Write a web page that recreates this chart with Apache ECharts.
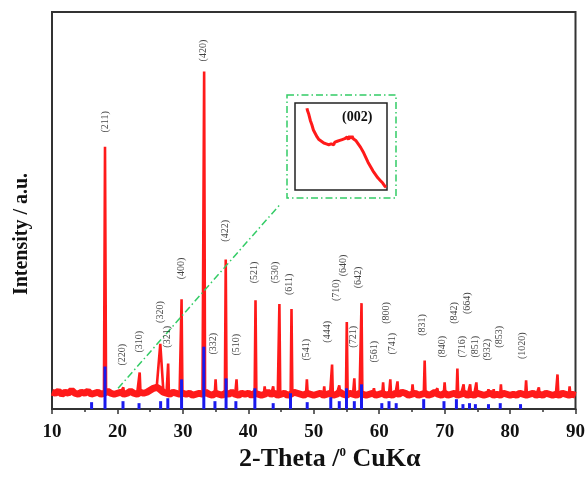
<!DOCTYPE html>
<html><head><meta charset="utf-8">
<script src="https://cdn.jsdelivr.net/npm/echarts@6/dist/echarts.min.js"></script>
<style>html,body{margin:0;padding:0;background:#fff}#c{width:588px;height:477px}</style>
</head><body><div id="c"></div>
<script>
// ---- Data ----
const xTicks = [10, 20, 30, 40, 50, 60, 70, 80, 90];
// Background (noisy) baseline, sampled every 0.5 deg from 10 to 90
const baseStart = 10, baseStep = 0.5;
const baseline = [
  17,16,18,15,17,16,19,16,15,17,16,18,15,16,17,15,16,18,16,15,16,
  17,15,16,18,16,15,17,16,17,19,21,22,20,17,16,15,17,16,15,16,
  15,16,14,15,16,15,17,15,14,16,15,14,16,15,17,15,14,16,15,16,
  14,16,15,14,15,17,15,16,14,15,16,14,15,17,16,15,14,16,15,14,
  15,16,14,15,16,14,15,17,15,14,16,15,14,16,15,14,15,16,14,15,
  16,14,15,14,16,15,17,16,14,15,16,14,15,16,14,15,17,15,14,16,
  14,15,16,14,15,16,14,15,14,16,15,14,15,16,14,15,14,16,15,14,
  15,14,16,15,14,15,16,14,15,14,16,15,14,15,14,16,15,14,15,14
];
// Measured red peaks
const peakAngles  = [18.1, 20.9, 23.4, 26.55, 27.75, 29.8, 33.25, 35.0, 36.55, 38.2, 41.1, 42.5, 43.8, 44.75, 46.6, 48.95, 51.6, 52.8, 53.9, 55.05, 56.2, 57.3, 59.2, 60.6, 61.7, 62.8, 65.1, 66.95, 68.9, 70.0, 71.95, 72.9, 73.9, 74.85, 76.7, 77.5, 78.6, 82.45, 84.4, 87.25, 89.1];
const peakHeights = [265, 22, 37, 66, 46, 111, 341, 30, 151, 30, 110, 23, 23, 106, 101, 30, 23, 45, 24, 88, 31, 107, 21, 27, 30, 28, 25, 49, 21, 27, 41, 25, 25, 27, 20, 20, 25, 29, 22, 35, 23];
const peakWidths  = [0.16, 0.12, 0.12, 0.45, 0.12, 0.13, 0.14, 0.12, 0.13, 0.12, 0.13, 0.12, 0.12, 0.13, 0.13, 0.12, 0.12, 0.12, 0.12, 0.13, 0.12, 0.13, 0.12, 0.12, 0.12, 0.12, 0.14, 0.13, 0.12, 0.12, 0.13, 0.12, 0.12, 0.12, 0.12, 0.12, 0.12, 0.14, 0.12, 0.14, 0.12];
// Blue reference (standard card) sticks
const refAngles  = [16.05, 18.1, 20.85, 23.3, 26.6, 27.7, 29.8, 33.2, 34.9, 36.6, 38.1, 41.0, 43.8, 46.45, 49.0, 52.6, 53.9, 55.0, 56.2, 57.3, 60.4, 61.5, 62.6, 66.8, 69.9, 71.8, 72.8, 73.8, 74.7, 76.7, 78.5, 81.6];
const refHeights = [7, 43, 8, 6, 8, 11, 30, 63, 8, 31, 8, 21, 6, 16, 7, 12, 8, 21, 8, 25, 6, 8, 6, 10, 8, 10, 5, 6, 5, 5, 6, 5];
// Miller index labels
const labelNames  = ['(211)','(420)','(220)','(310)','(320)','(321)','(400)','(332)','(422)','(510)','(521)','(530)','(611)','(541)','(444)','(710)','(640)','(642)','(721)','(561)','(800)','(741)','(831)','(840)','(842)','(716)','(664)','(851)','(932)','(853)','(1020)'];
const labelAngles = [18.1, 33.2, 20.7, 23.3, 26.6, 27.7, 29.7, 34.6, 36.55, 38.25, 41.0, 44.2, 46.35, 48.9, 52.15, 53.5, 54.6, 56.85, 56.1, 59.3, 61.15, 62.05, 66.65, 69.7, 71.55, 72.75, 73.5, 74.75, 76.55, 78.4, 81.9];
const labelValues = [290, 362, 55, 68, 98, 73, 142, 66, 180, 65, 138, 138, 126, 60, 78, 120, 145, 133, 73, 58, 97, 66, 85, 63, 97, 63, 107, 63, 60, 73, 64];
// Arrow pointing to inset
const arrowFrom = [20.1, 21];
const arrowTo = [44.9, 207];
// Inset (002) curve
const insetX = [13.9,14.1,14.3,14.5,14.7,15.0,15.2,15.5,15.8,16.0,16.3,16.6,16.9,17.2,17.5,17.8,18.2,18.6,19.0,19.4,19.8,20.2,20.6,21.0,21.4,21.8,22.2,22.6,23.0,23.4,23.8,24.2,24.6,25.0,25.4,25.8,26.2,26.6,27.0,27.4,27.8,28.2,28.6,29.0,29.4,29.8,30.2,30.6,31.0,31.4,31.8,32.2,32.6,33.0,33.4,33.8,34.2,34.6,35.0,35.4,35.8,36.2,36.6,37.0,37.4,37.8,38.2,38.6,39.0,39.4,39.7];
const insetY = [94,91,92,87,86,80,81,75,73,69,68,65,63,61,62,58,59,56,57,54,56,53,55,52,54,53,55,52,55,53,56,54,57,55,58,56,59,57,61,58,62,59,62,59,60,57,57,53,53,49,48,44,43,38,37,32,31,27,26,22,22,18,18,14,14,11,11,8,7,4,3];

// ---- Build series data ----
const bandData = baseline.map((v, i) => [baseStart + i * baseStep, v]);
const pts = [];
bandData.forEach(([a, v]) => {
  if (!peakAngles.some((p, j) => Math.abs(a - p) <= peakWidths[j])) pts.push([a, v]);
});
peakAngles.forEach((p, j) => {
  const b = baseline[Math.round((p - baseStart) / baseStep)];
  pts.push([p - peakWidths[j], b], [p, peakHeights[j]], [p + peakWidths[j], b]);
});
pts.sort((a, b) => a[0] - b[0]);
const refData = refAngles.map((a, i) => [a, refHeights[i]]);
const labelData = labelNames.map((n, i) => ({ value: [labelAngles[i], labelValues[i]], name: n }));
const insetData = insetX.map((x, i) => [x, insetY[i]]);

const serif = 'Liberation Serif';
const green = '#33cc66';
const chart = echarts.init(document.getElementById('c'), null, { renderer: 'canvas' });
chart.setOption({
  animation: false,
  backgroundColor: '#fff',
  grid: [
    { left: 52, right: 12, top: 12, bottom: 64, show: true, borderColor: '#333', borderWidth: 2 },
    { left: 295, top: 103, width: 92, height: 87, show: true, borderColor: '#222', borderWidth: 1.5, backgroundColor: '#fff' }
  ],
  xAxis: [
    {
      type: 'value', gridIndex: 0, min: 10, max: 90, interval: 10,
      axisLine: { show: true, lineStyle: { color: '#333', width: 2 } },
      axisTick: { show: true, inside: false, length: 5, lineStyle: { color: '#333', width: 1.5 } },
      minorTick: { show: true, splitNumber: 2, length: 3, lineStyle: { color: '#333', width: 1.5 } },
      splitLine: { show: false },
      axisLabel: { fontFamily: serif, fontWeight: 'bold', fontSize: 19, color: '#111', margin: 13,
        formatter: v => xTicks.includes(v) ? String(v) : '' },
      name: '{a|2-Theta /}{s|0}{a| CuKα}', nameLocation: 'middle', nameGap: 17,
      nameTextStyle: { padding: [0, 0, 0, 32], rich: {
        a: { fontFamily: serif, fontWeight: 'bold', fontSize: 26, color: '#111' },
        s: { fontFamily: serif, fontWeight: 'bold', fontSize: 13, color: '#111', verticalAlign: 'top', padding: [0, 0, 12, 0] }
      } }
    },
    { type: 'value', gridIndex: 1, min: 10, max: 40, show: false }
  ],
  yAxis: [
    {
      type: 'value', gridIndex: 0, min: 0, max: 401,
      axisLine: { show: true, lineStyle: { color: '#333', width: 2 } },
      axisTick: { show: false }, axisLabel: { show: false }, splitLine: { show: false }
    },
    { type: 'value', gridIndex: 1, min: 0, max: 100, show: false }
  ],
  graphic: [
    { type: 'rect', shape: { x: 287, y: 95, width: 109, height: 103 }, z: 1,
      style: { fill: 'none', stroke: green, lineWidth: 1.5, lineDash: [7, 3, 1.5, 3] } },
    { type: 'text', left: 342, top: 110, z: 100,
      style: { text: '(002)', fontFamily: serif, fontWeight: 'bold', fontSize: 14, fill: '#111' } },
    { type: 'text', x: 22, y: 234, rotation: Math.PI / 2, z: 100,
      style: { text: 'Intensity / a.u.', fontFamily: serif, fontWeight: 'bold', fontSize: 20, fill: '#111',
        align: 'center', verticalAlign: 'middle' } }
  ],
  series: [
    {
      type: 'line', xAxisIndex: 0, yAxisIndex: 0, data: bandData, showSymbol: false, symbol: 'none',
      lineStyle: { color: '#ff1a1a', width: 7 }, z: 2,
      markLine: {
        silent: true, symbol: ['none', 'arrow'], symbolSize: [0, 9],
        label: { show: false },
        lineStyle: { color: green, width: 1.5, type: [7, 3, 1.5, 3] },
        data: [[{ coord: arrowFrom }, { coord: arrowTo }]]
      }
    },
    {
      type: 'line', xAxisIndex: 0, yAxisIndex: 0, data: pts, showSymbol: false, symbol: 'none',
      lineStyle: { color: '#ff1a1a', width: 2.6 }, z: 3
    },
    {
      type: 'bar', xAxisIndex: 0, yAxisIndex: 0, data: refData, barWidth: 3,
      itemStyle: { color: '#1a1aee' }, z: 4
    },
    {
      type: 'scatter', xAxisIndex: 0, yAxisIndex: 0, data: labelData, symbolSize: 0, z: 5,
      label: { show: true, formatter: p => p.name, rotate: 90, position: 'inside',
        fontFamily: serif, fontSize: 10, color: '#111', align: 'center', verticalAlign: 'middle' }
    },
    {
      type: 'line', xAxisIndex: 1, yAxisIndex: 1, data: insetData, showSymbol: false, symbol: 'none',
      lineStyle: { color: '#ff1a1a', width: 3 }, z: 10
    }
  ]
});
</script></body></html>
